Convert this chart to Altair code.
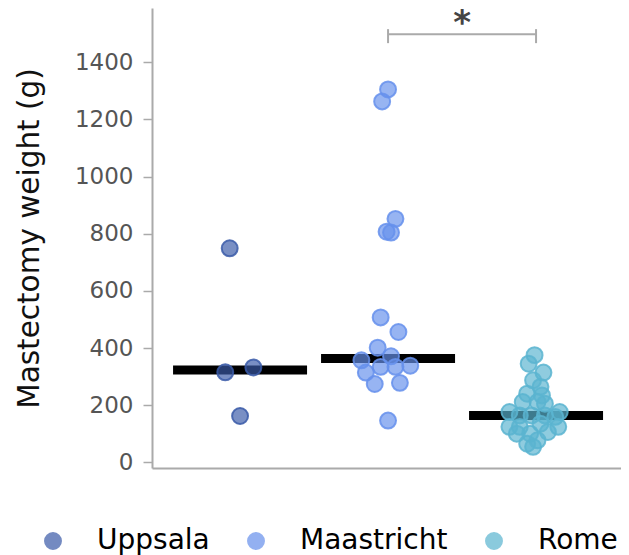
import altair as alt
import pandas as pd

groups = ["Uppsala", "Maastricht", "Rome"]
colors = ["#3a5aa8", "#6690ec", "#5ab4d0"]

# weights (g), with the horizontal jitter (fraction of group spacing)
uppsala_weight = [749, 315, 332, 162]
uppsala_jitter = [-0.07, -0.10, 0.09, 0.0]

maastricht_weight = [1305, 1263, 852, 807, 804, 507, 456, 401, 371, 357, 334, 334, 338, 314, 274, 278, 146]
maastricht_jitter = [0.0, -0.04, 0.05, -0.01, 0.02, -0.05, 0.07, -0.07, 0.02, -0.18, -0.05, 0.05, 0.15, -0.15, -0.09, 0.08, 0.0]

rome_weight = [375, 345, 314, 287, 264, 240, 234, 211, 211, 205, 176, 176, 164, 164, 164, 159,
               124, 124, 124, 135, 100, 106, 100, 65, 54, 77]
rome_jitter = [-0.01, -0.05, 0.05, -0.02, 0.03, -0.06, 0.04, -0.09, 0.01, 0.06, -0.18, 0.16, -0.11, -0.03, 0.06, 0.13,
               -0.18, 0.15, -0.11, 0.03, -0.13, 0.08, -0.04, -0.06, -0.02, 0.01]

medians = [323, 363, 164]
y_ticks = [0, 200, 400, 600, 800, 1000, 1200, 1400]

sig_pair = ["Maastricht", "Rome"]
sig_label = "*"
sig_level = 1498
sig_tick_span = [1467, 1516]
sig_label_level = 1500

FONT = "DejaVu Sans"

rows = []
for gi, (ws, js) in enumerate([(uppsala_weight, uppsala_jitter),
                               (maastricht_weight, maastricht_jitter),
                               (rome_weight, rome_jitter)]):
    for w, j in zip(ws, js):
        rows.append({"group": groups[gi], "pos": gi + j, "weight": w})
points = pd.DataFrame(rows)
med_df = pd.DataFrame({"group": groups, "pos": list(range(len(groups))), "weight": medians})

i1, i2 = groups.index(sig_pair[0]), groups.index(sig_pair[1])
bracket_h = pd.DataFrame({"pos": [i1], "pos2": [i2], "weight": [sig_level]})
bracket_v = pd.DataFrame({"pos": [i1, i2], "weight": [sig_tick_span[0]] * 2, "weight2": [sig_tick_span[1]] * 2})
star_df = pd.DataFrame({"pos": [(i1 + i2) / 2], "weight": [sig_label_level], "label": [sig_label]})

xscale = alt.Scale(domain=[-0.595, 2.574], nice=False, zero=False)
yscale = alt.Scale(domain=[-20, 1590], nice=False, zero=False)
xaxis = alt.Axis(title=None, labels=False, ticks=False, grid=False, domain=True)
yaxis = alt.Axis(title="Mastectomy weight (g)", values=y_ticks, grid=False, format="d")

X = lambda: alt.X("pos:Q", scale=xscale, axis=xaxis)
Y = lambda: alt.Y("weight:Q", scale=yscale, axis=yaxis)

median_layer = alt.Chart(med_df).mark_tick(
    orient="horizontal", size=134, thickness=9, color="black", opacity=1
).encode(x=X(), y=Y())

point_layer = alt.Chart(points).mark_point(
    shape="circle", filled=True, size=254, fillOpacity=0.68, strokeOpacity=0.85, strokeWidth=2
).encode(
    x=X(), y=Y(),
    fill=alt.Fill("group:N", scale=alt.Scale(domain=groups, range=colors),
                  legend=alt.Legend(title=None, orient="none", legendX=-113, legendY=519,
                                    direction="horizontal", labelFontSize=28, labelFont=FONT,
                                    labelColor="#000000", symbolType="circle", symbolSize=254,
                                    symbolStrokeWidth=2, symbolOpacity=0.7, labelOffset=30,
                                    columnPadding=32, padding=0)),
    stroke=alt.Stroke("group:N", scale=alt.Scale(domain=groups, range=colors), legend=None),
)

bracket_h_layer = alt.Chart(bracket_h).mark_rule(color="#aaaaaa", strokeWidth=2).encode(
    x=X(), x2="pos2:Q", y=Y())
bracket_v_layer = alt.Chart(bracket_v).mark_rule(color="#aaaaaa", strokeWidth=2).encode(
    x=X(), y=Y(), y2="weight2:Q")
star_layer = alt.Chart(star_df).mark_text(
    font=FONT, fontSize=34, fontWeight="bold", color="#444444", baseline="alphabetic", align="center"
).encode(x=X(), y=Y(), text="label:N")

chart = alt.layer(
    median_layer, point_layer, bracket_h_layer, bracket_v_layer, star_layer
).properties(
    width=469, height=460,
    autosize=alt.AutoSizeParams(type="none"),
    padding={"left": 144, "top": 0, "right": 0, "bottom": 87},
).configure_view(stroke=None).configure_axis(
    domainColor="#aaaaaa", domainWidth=2, tickColor="#aaaaaa", tickWidth=1.5, tickSize=9,
    labelColor="#555555", labelFontSize=23, labelFont=FONT, labelPadding=10,
    titleFont=FONT, titleFontSize=29.5, titleFontWeight="normal", titleColor="#111111", titlePadding=30,
)

chart.save("out.html", embed_options={"renderer": "svg", "actions": False})
